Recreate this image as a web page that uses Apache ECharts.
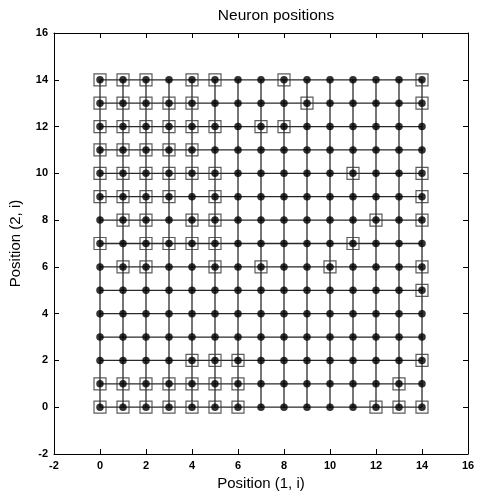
<!DOCTYPE html>
<html>
<head>
<meta charset="utf-8">
<script src="https://cdn.jsdelivr.net/npm/echarts@6/dist/echarts.min.js"></script>
<style>
  html, body { margin: 0; padding: 0; background: #fff; }
  #chart { width: 481px; height: 497px; }
</style>
</head>
<body>
<div id="chart"></div>
<script>
// neuron grid positions (1, i) and (2, i)
var gridX = [0, 1, 2, 3, 4, 5, 6, 7, 8, 9, 10, 11, 12, 13, 14]
var gridY = [0, 1, 2, 3, 4, 5, 6, 7, 8, 9, 10, 11, 12, 13, 14]

// columns of the boxed neurons, one list per row (row y -> x values)
var boxRow14 = [0, 1, 2, 4, 5, 8, 14]
var boxRow13 = [0, 1, 2, 3, 4, 9, 14]
var boxRow12 = [0, 1, 2, 3, 4, 5, 7, 8]
var boxRow11 = [0, 1, 2, 3, 4]
var boxRow10 = [0, 1, 2, 3, 4, 5, 11, 14]
var boxRow9 = [0, 1, 2, 3, 5, 14]
var boxRow8 = [1, 2, 4, 5, 12, 14]
var boxRow7 = [0, 2, 3, 4, 5, 11]
var boxRow6 = [1, 2, 5, 7, 10, 14]
var boxRow5 = [14]
var boxRow4 = []
var boxRow3 = []
var boxRow2 = [4, 5, 6, 14]
var boxRow1 = [0, 1, 2, 3, 4, 5, 6, 13]
var boxRow0 = [0, 1, 2, 3, 4, 5, 6, 12, 13, 14]

var axisTicks = [-2, 0, 2, 4, 6, 8, 10, 12, 14, 16]

var boxRows = [boxRow0, boxRow1, boxRow2, boxRow3, boxRow4, boxRow5, boxRow6, boxRow7,
               boxRow8, boxRow9, boxRow10, boxRow11, boxRow12, boxRow13, boxRow14]

var chart = echarts.init(document.getElementById('chart'))

var series = []
var lineStyle = { color: '#2a2a2a', width: 1.3 }

// horizontal links
gridY.forEach(function (y) {
  series.push({
    type: 'line', symbol: 'none', silent: true, animation: false,
    data: gridX.map(function (x) { return [x, y] }),
    lineStyle: lineStyle
  })
})
// vertical links
gridX.forEach(function (x) {
  series.push({
    type: 'line', symbol: 'none', silent: true, animation: false,
    data: gridY.map(function (y) { return [x, y] }),
    lineStyle: lineStyle
  })
})

// neurons
var dots = []
gridY.forEach(function (y) {
  gridX.forEach(function (x) { dots.push([x, y]) })
})
series.push({
  type: 'scatter', symbol: 'circle', symbolSize: 7.5, animation: false,
  data: dots,
  itemStyle: { color: '#000' },
  z: 3
})

// boxed neurons
var boxes = []
boxRows.forEach(function (row, y) {
  row.forEach(function (x) { boxes.push([x, y]) })
})
series.push({
  type: 'scatter', symbol: 'rect', symbolSize: 12, animation: false,
  data: boxes,
  itemStyle: { color: 'rgba(0,0,0,0)', borderColor: '#333', borderWidth: 1.2 },
  z: 4
})

function baseAxis(pos, showLabel) {
  return {
    type: 'value', position: pos, min: axisTicks[0], max: axisTicks[axisTicks.length - 1], interval: 2,
    axisLine: { show: true, onZero: false, lineStyle: { color: '#000', width: 1 } },
    axisTick: { show: true, inside: true, length: 5, lineStyle: { color: '#000' } },
    axisLabel: {
      show: showLabel, color: '#000', fontSize: 11, fontWeight: 'bold',
      fontFamily: 'Liberation Sans, Arial, sans-serif', margin: 6
    },
    splitLine: { show: false }
  }
}

var xBottom = baseAxis('bottom', true)
xBottom.name = 'Position (1, i)'
xBottom.nameLocation = 'middle'
xBottom.nameGap = 22
xBottom.nameTextStyle = { fontSize: 15, color: '#000', fontFamily: 'Liberation Sans Narrow, Liberation Sans, Arial, sans-serif' }

var yLeft = baseAxis('left', true)
yLeft.name = 'Position (2, i)'
yLeft.nameLocation = 'middle'
yLeft.nameGap = 31
yLeft.nameTextStyle = { fontSize: 15, color: '#000', fontFamily: 'Liberation Sans Narrow, Liberation Sans, Arial, sans-serif' }

var xTop = baseAxis('top', false)
var yRight = baseAxis('right', false)

chart.setOption({
  animation: false,
  backgroundColor: '#fff',
  title: {
    text: 'Neuron positions', left: 271, top: 3, textAlign: 'center',
    textStyle: { fontSize: 15.5, fontWeight: 'normal', color: '#000', fontFamily: 'Liberation Sans Narrow, Liberation Sans, Arial, sans-serif' }
  },
  grid: { left: 54, right: 13, top: 33, bottom: 43 },
  xAxis: [xBottom, xTop],
  yAxis: [yLeft, yRight],
  series: series
})
</script>
</body>
</html>
